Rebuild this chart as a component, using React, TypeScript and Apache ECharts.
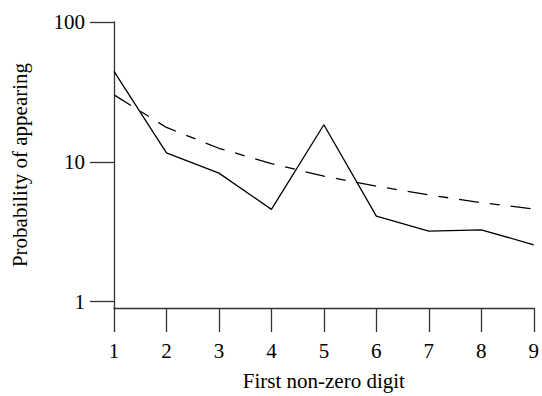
import React, { useEffect, useRef } from "react";
import * as echarts from "echarts";

const digits = [1, 2, 3, 4, 5, 6, 7, 8, 9];
const observed = [44.4, 11.6, 8.3, 4.57, 18.4, 4.09, 3.19, 3.26, 2.55];
const benford = [30.1, 17.6, 12.5, 9.7, 7.9, 6.7, 5.8, 5.1, 4.6];
const yTicks = [1, 10, 100];

const FONT = '"Liberation Serif", "Times New Roman", serif';

export default function App() {
  const ref = useRef<HTMLDivElement>(null);
  useEffect(() => {
    if (!ref.current) return;
    const chart = echarts.init(ref.current, null, { renderer: "svg" });
    const axisColor = "#333";
    chart.setOption({
      animation: false,
      backgroundColor: "#fff",
      textStyle: { fontFamily: FONT },
      grid: { left: 114, right: 6, top: 22, bottom: 86, containLabel: false },
      xAxis: {
        type: "value",
        min: 1,
        max: 9,
        interval: 1,
        name: "First non-zero digit",
        nameLocation: "middle",
        nameGap: 62,
        nameTextStyle: { fontFamily: FONT, fontSize: 21, color: "#000" },
        axisLine: { show: true, lineStyle: { color: axisColor, width: 1.3 } },
        axisTick: { show: true, length: 24, lineStyle: { color: axisColor, width: 1.3 } },
        axisLabel: { fontFamily: FONT, fontSize: 21, color: "#000", margin: 32 },
        splitLine: { show: false },
      },
      yAxis: {
        type: "log",
        logBase: 10,
        min: 0.9,
        max: 100,
        name: "Probability of appearing",
        nameLocation: "middle",
        nameGap: 84,
        nameTextStyle: { fontFamily: FONT, fontSize: 21, color: "#000" },
        axisLine: { show: true, lineStyle: { color: axisColor, width: 1.3 } },
        axisTick: {
          show: true,
          length: 24,
          customValues: yTicks,
          lineStyle: { color: axisColor, width: 1.3 },
        },
        axisLabel: {
          fontFamily: FONT,
          fontSize: 21,
          color: "#000",
          margin: 29,
          customValues: yTicks,
        },
        splitLine: { show: false },
        minorTick: { show: false },
      },
      series: [
        {
          type: "line",
          data: digits.map((d, i) => [d, observed[i]]),
          showSymbol: false,
          symbol: "none",
          lineStyle: { color: "#000", width: 1.3 },
        },
        {
          type: "line",
          data: digits.map((d, i) => [d, benford[i]]),
          showSymbol: false,
          symbol: "none",
          lineStyle: { color: "#000", width: 1.3, type: [20, 11, 10, 11] },
        },
      ],
    });
    return () => chart.dispose();
  }, []);
  return (
    <div
      ref={ref}
      style={{ position: "fixed", left: 0, top: 0, width: 542, height: 396, background: "#fff" }}
    />
  );
}
